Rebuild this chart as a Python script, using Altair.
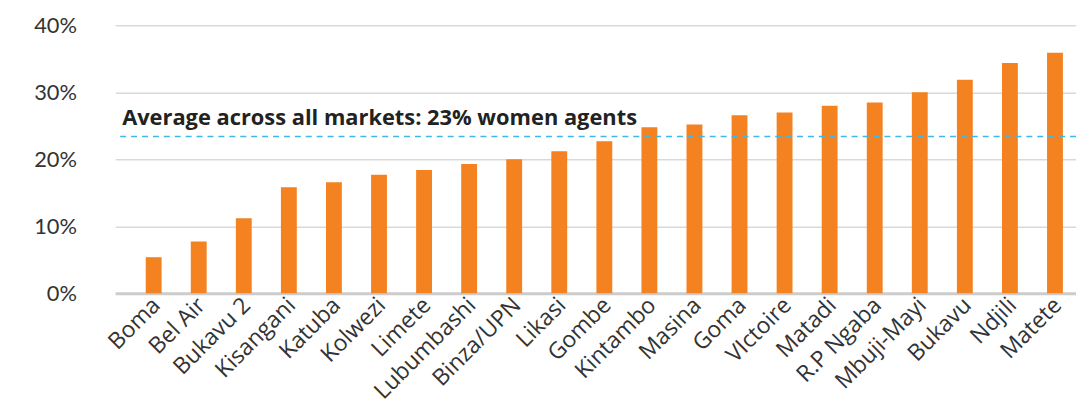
import altair as alt
import pandas as pd

markets = ["Boma", "Bel Air", "Bukavu 2", "Kisangani", "Katuba", "Kolwezi", "Limete",
           "Lubumbashi", "Binza/UPN", "Likasi", "Gombe", "Kintambo", "Masina", "Goma",
           "VIctoire", "Matadi", "R.P Ngaba", "Mbuji-Mayi", "Bukavu", "Ndjili", "Matete"]
share = [0.054, 0.0775, 0.112, 0.1585, 0.166, 0.177, 0.184, 0.193, 0.200, 0.212, 0.227,
         0.248, 0.252, 0.266, 0.270, 0.280, 0.285, 0.300, 0.319, 0.344, 0.359]
average = [0.234]
note = ["Average across all markets: 23% women agents"]

df = pd.DataFrame({"market": markets, "share": share})
avg_df = pd.DataFrame({"avg": average, "label": note})

x_enc = alt.X("market:N", sort=markets, title=None,
              scale=alt.Scale(paddingInner=0.648, paddingOuter=0.484, align=0.7),
              axis=alt.Axis(labelAngle=-45, labelFontSize=23, labelColor="#333333",
                            labelFont="Open Sans", ticks=False, domain=True,
                            domainColor="#cccccc", domainWidth=3, labelPadding=8,
                            labelOffset=3,
                            labelAlign="right", labelBaseline="middle",
                            labelOverlap=False))

bars = alt.Chart(df).mark_bar(color="#F58220").encode(
    x=x_enc,
    y=alt.Y("share:Q", title=None,
            scale=alt.Scale(domain=[0, 0.4], nice=False),
            axis=alt.Axis(format=".0%", values=[0, 0.1, 0.2, 0.3, 0.4],
                          labelFontSize=22, labelColor="#333333", labelFont="Lato",
                          ticks=False, domain=False, labelPadding=39,
                          gridColor="#d9d9d9", gridWidth=1.5)),
)

rule = alt.Chart(avg_df).mark_rule(color="#3DB8E8", strokeDash=[6, 5], strokeWidth=1.5).encode(
    y="avg:Q"
)

text = alt.Chart(avg_df).mark_text(align="left", baseline="alphabetic", fontSize=22,
                                   fontWeight="bold", color="#222222", font="Open Sans",
                                   dx=0, dy=-12).encode(
    x=alt.value(7),
    y="avg:Q",
    text="label:N",
)

chart = alt.layer(bars, rule, text).properties(
    width=968, height=270,
    autosize=alt.AutoSizeParams(type="none"),
    padding={"left": 108, "top": 16, "right": 0, "bottom": 114},
).configure_view(stroke=None).configure_axis(gridOpacity=1)

chart.save("out.html", embed_options={"renderer": "svg", "actions": False})
